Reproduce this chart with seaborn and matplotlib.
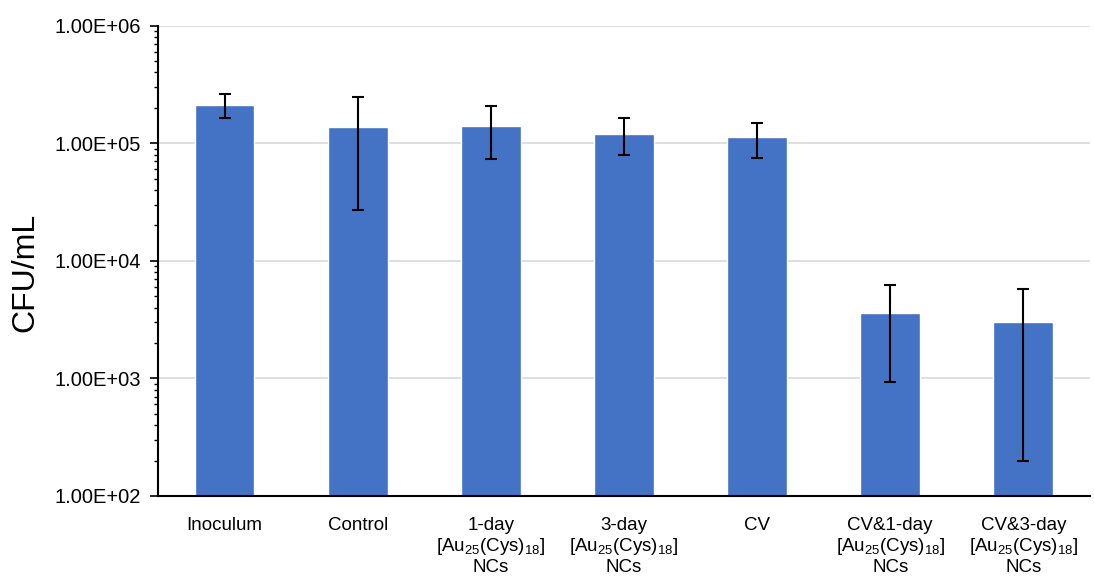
import matplotlib
matplotlib.use("Agg")
import matplotlib.pyplot as plt
import matplotlib.ticker as mticker
import numpy as np
import pandas as pd
import seaborn as sns

categories = ["Inoculum", "Control",
              "1-day\n[Au$_{25}$(Cys)$_{18}$]\nNCs",
              "3-day\n[Au$_{25}$(Cys)$_{18}$]\nNCs",
              "CV",
              "CV&1-day\n[Au$_{25}$(Cys)$_{18}$]\nNCs",
              "CV&3-day\n[Au$_{25}$(Cys)$_{18}$]\nNCs"]
cfu_mean = [2.12e5, 1.38e5, 1.40e5, 1.21e5, 1.12e5, 3.58e3, 3.00e3]
cfu_err = [4.9e4, 1.11e5, 6.6e4, 4.2e4, 3.7e4, 2.65e3, 2.8e3]

sns.set_theme(style="white")
plt.rcParams["font.family"] = ["Liberation Sans", "DejaVu Sans"]
plt.rcParams["mathtext.fontset"] = "custom"
plt.rcParams["mathtext.rm"] = "Liberation Sans"
plt.rcParams["mathtext.it"] = "Liberation Sans:italic"
plt.rcParams["mathtext.bf"] = "Liberation Sans:bold"

df = pd.DataFrame({"cat": categories, "cfu": cfu_mean, "err": cfu_err})

fig = plt.figure(figsize=(10.94, 5.79), dpi=100)
ax = fig.add_axes([0.1444, 0.1434, 0.8519, 0.8122])
ax.set_yscale("log")
sns.barplot(data=df, x="cat", y="cfu", color="#4472C4", saturation=1,
            width=0.45, ax=ax, errorbar=None)
ax.errorbar(np.arange(len(categories)), df["cfu"], yerr=df["err"], fmt="none",
            ecolor="black", elinewidth=1.5, capsize=4, capthick=1.5, zorder=5)

ax.set_ylim(1e2, 1e6)
ax.set_xlim(-0.5, len(categories) - 0.5)
ax.yaxis.set_major_locator(mticker.LogLocator(base=10, numticks=10))
ax.yaxis.set_minor_locator(mticker.LogLocator(base=10, subs=np.arange(2, 10), numticks=100))
ax.yaxis.set_minor_formatter(mticker.NullFormatter())
ax.yaxis.set_major_formatter(mticker.FuncFormatter(lambda v, p: "{:.2E}".format(v)))

ax.grid(axis="y", which="major", color="#d9d9d9", linewidth=1.2)
ax.grid(axis="x", visible=False)
ax.set_axisbelow(True)

for s in ["top", "right"]:
    ax.spines[s].set_visible(False)
for s in ["left", "bottom"]:
    ax.spines[s].set_color("black")
    ax.spines[s].set_linewidth(1.5)

ax.tick_params(axis="y", which="major", direction="out", length=6, width=1.2,
               left=True, labelsize=14.5, colors="black", pad=6)
ax.tick_params(axis="y", which="minor", direction="out", length=3, width=1.0,
               left=True, colors="black")
ax.tick_params(axis="x", which="both", bottom=False, labelsize=13.5, pad=9,
               colors="black")
for lab in ax.get_xticklabels():
    lab.set_linespacing(1.15)
    lab.set_verticalalignment("top")

ax.set_xlabel("")
ax.set_ylabel("CFU/mL", fontsize=23, color="black")
ax.yaxis.set_label_coords(-0.1266, 0.476)

fig.savefig("out.png", dpi=100)
